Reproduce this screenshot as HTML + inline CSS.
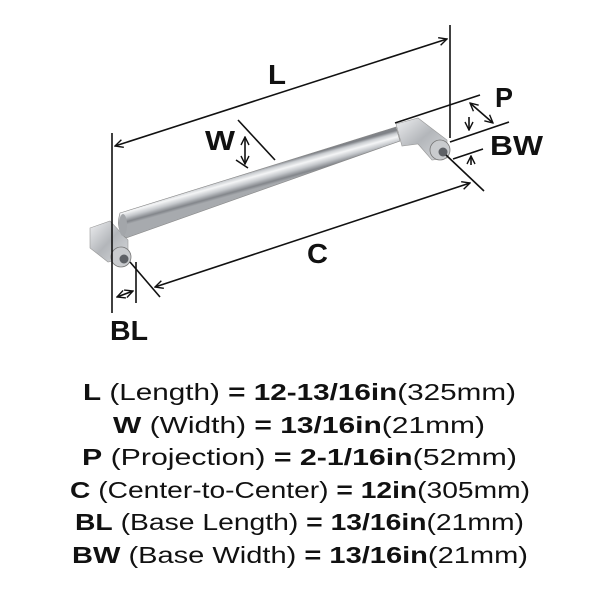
<!DOCTYPE html>
<html><head><style>body{margin:0;background:#fff}svg{display:block}</style></head>
<body>
<svg width="600" height="600" viewBox="0 0 600 600" xmlns="http://www.w3.org/2000/svg">
<defs>
<linearGradient id="bar" gradientUnits="userSpaceOnUse" x1="257" y1="169" x2="262" y2="187">
<stop offset="0" stop-color="#7f8287"/><stop offset="0.15" stop-color="#c9ccd0"/><stop offset="0.35" stop-color="#f4f5f6"/><stop offset="0.6" stop-color="#c4c7cb"/><stop offset="0.85" stop-color="#83868b"/><stop offset="1" stop-color="#a7aaae"/></linearGradient>
<linearGradient id="met" x1="0" y1="0" x2="1" y2="1">
<stop offset="0" stop-color="#eeeff1"/><stop offset="0.5" stop-color="#b3b6ba"/><stop offset="1" stop-color="#d6d8db"/></linearGradient>
<marker id="a" markerWidth="10" markerHeight="10" refX="9" refY="5" orient="auto-start-reverse" markerUnits="userSpaceOnUse"><path d="M1,1 L9,5 L1,9" fill="none" stroke="#111" stroke-width="1.4"/></marker>
</defs>
<path d="M90,228 L110,221 L128,240 L128,258 L108,262 L90,248 Z" fill="url(#met)" stroke="#999" stroke-width="0.6"/>
<circle cx="121" cy="257" r="10" fill="#c9cbce" stroke="#777" stroke-width="0.8"/>
<circle cx="124" cy="259" r="4.5" fill="#5e6166"/>
<path d="M120,213 L396,127 L400,141 L126,238 Q115,230 120,213 Z" fill="url(#bar)" stroke="#888" stroke-width="0.6"/>
<ellipse cx="123" cy="225" rx="4" ry="11" fill="#a3a6aa"/>
<path d="M396,124 L418,118 L447,140 L447,158 L432,160 L418,144 L402,146 Z" fill="url(#met)" stroke="#999" stroke-width="0.6"/>
<circle cx="440" cy="150" r="10" fill="#c9cbce" stroke="#777" stroke-width="0.8"/>
<circle cx="443" cy="152" r="4.5" fill="#5e6166"/>
<g stroke="#111" stroke-width="1.6" fill="none">
<line x1="112" y1="133" x2="112" y2="313"/>
<line x1="450" y1="25" x2="450" y2="138"/>
<line x1="115" y1="146" x2="447" y2="39" marker-start="url(#a)" marker-end="url(#a)"/>
<line x1="238" y1="120" x2="275" y2="160"/>
<line x1="236" y1="160" x2="248" y2="168"/>
<line x1="245" y1="137" x2="245" y2="164" marker-start="url(#a)" marker-end="url(#a)"/>
<line x1="395" y1="123" x2="480" y2="95"/>
<line x1="450" y1="142" x2="509" y2="122"/>
<line x1="453" y1="159" x2="483" y2="149"/>
<line x1="470" y1="103" x2="493" y2="123" marker-start="url(#a)" marker-end="url(#a)"/>
<line x1="469" y1="117" x2="469" y2="130" marker-end="url(#a)"/>
<line x1="471" y1="165" x2="471" y2="156" marker-end="url(#a)"/>
<line x1="130" y1="262" x2="160" y2="297"/>
<line x1="446" y1="155" x2="484" y2="191"/>
<line x1="155" y1="287" x2="470" y2="183" marker-start="url(#a)" marker-end="url(#a)"/>
<line x1="136" y1="262" x2="136" y2="303"/>
<line x1="117" y1="297" x2="133" y2="291" marker-start="url(#a)" marker-end="url(#a)"/>
</g>
<g font-family="Liberation Sans, sans-serif" font-size="28" font-weight="bold" fill="#111">
<text x="268" y="84" textLength="18" lengthAdjust="spacingAndGlyphs">L</text>
<text x="205" y="150" textLength="30" lengthAdjust="spacingAndGlyphs">W</text>
<text x="495" y="107" textLength="18" lengthAdjust="spacingAndGlyphs">P</text>
<text x="490" y="155" textLength="53" lengthAdjust="spacingAndGlyphs">BW</text>
<text x="307" y="263" textLength="21" lengthAdjust="spacingAndGlyphs">C</text>
<text x="110" y="340" textLength="38" lengthAdjust="spacingAndGlyphs">BL</text>
</g>
<g font-family="Liberation Sans, sans-serif" font-size="23" fill="#111">
<text x="83" y="400" textLength="433" lengthAdjust="spacingAndGlyphs"><tspan font-weight="bold">L</tspan> (Length) <tspan font-weight="bold">= 12-13/16in</tspan>(325mm)</text>
<text x="113" y="433" textLength="372" lengthAdjust="spacingAndGlyphs"><tspan font-weight="bold">W</tspan> (Width) <tspan font-weight="bold">= 13/16in</tspan>(21mm)</text>
<text x="82" y="465" textLength="435" lengthAdjust="spacingAndGlyphs"><tspan font-weight="bold">P</tspan> (Projection) <tspan font-weight="bold">= 2-1/16in</tspan>(52mm)</text>
<text x="70" y="498" textLength="460" lengthAdjust="spacingAndGlyphs"><tspan font-weight="bold">C</tspan> (Center-to-Center) <tspan font-weight="bold">= 12in</tspan>(305mm)</text>
<text x="75" y="530" textLength="449" lengthAdjust="spacingAndGlyphs"><tspan font-weight="bold">BL</tspan> (Base Length) <tspan font-weight="bold">= 13/16in</tspan>(21mm)</text>
<text x="72" y="563" textLength="456" lengthAdjust="spacingAndGlyphs"><tspan font-weight="bold">BW</tspan> (Base Width) <tspan font-weight="bold">= 13/16in</tspan>(21mm)</text>
</g>
</svg>
</body></html>
